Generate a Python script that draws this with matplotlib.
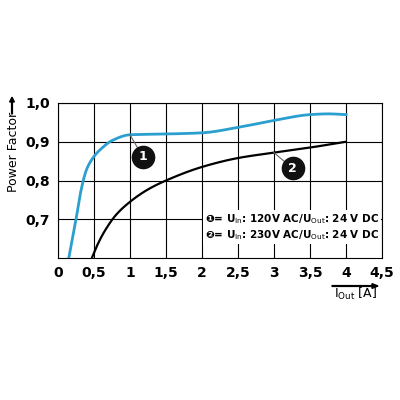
import matplotlib
matplotlib.use("Agg")
import matplotlib.pyplot as plt
import matplotlib.patches as mpatches
import numpy as np

x1 = [0.15, 0.25, 0.32, 0.4, 0.5, 0.6, 0.75, 1.0, 1.5, 2.0, 2.5, 3.0, 3.5, 3.75, 4.0]
y1 = [0.6, 0.7, 0.775, 0.83, 0.862, 0.882, 0.903, 0.918, 0.92, 0.923, 0.937, 0.955, 0.97, 0.972, 0.97]
x2 = [0.47, 0.55, 0.65, 0.8, 1.0, 1.25, 1.5, 2.0, 2.5, 3.0, 3.5, 4.0]
y2 = [0.6, 0.635, 0.67, 0.71, 0.745, 0.777, 0.8, 0.835, 0.858, 0.872, 0.885, 0.9]
xticks = [0, 0.5, 1, 1.5, 2, 2.5, 3, 3.5, 4, 4.5]
yticks = [0.7, 0.8, 0.9, 1.0]

def smooth(x, y):
    xs = np.linspace(x[0], x[-1], 400)
    x = np.asarray(x); y = np.asarray(y)
    h = np.diff(x); d = np.diff(y) / h
    m = np.zeros_like(y)
    for k in range(1, len(x) - 1):
        if d[k-1] * d[k] > 0:
            w1 = 2*h[k] + h[k-1]; w2 = h[k] + 2*h[k-1]
            m[k] = (w1 + w2) / (w1/d[k-1] + w2/d[k])
    m[0] = d[0]; m[-1] = d[-1]
    idx = np.clip(np.searchsorted(x, xs) - 1, 0, len(x) - 2)
    t = (xs - x[idx]) / h[idx]
    h00 = 2*t**3 - 3*t**2 + 1; h10 = t**3 - 2*t**2 + t
    h01 = -2*t**3 + 3*t**2; h11 = t**3 - t**2
    ys = h00*y[idx] + h10*h[idx]*m[idx] + h01*y[idx+1] + h11*h[idx]*m[idx+1]
    return xs, ys

fig = plt.figure(figsize=(4, 4), dpi=100)
ax = fig.add_axes([0.145, 0.355, 0.81, 0.3875])
ax.set_xlim(0, 4.5); ax.set_ylim(0.6, 1.0)
ax.set_xticks(xticks)
ax.set_xticklabels([str(v).replace('.', ',') for v in xticks], fontsize=10, fontweight='bold')
ax.set_yticks(yticks)
ax.set_yticklabels(['0,7', '0,8', '0,9', '1,0'], fontsize=10, fontweight='bold')
ax.tick_params(length=0, pad=6)
ax.grid(True, color='black', linewidth=0.8)
for s in ax.spines.values():
    s.set_linewidth(0.8)

xs, ys = smooth(x1, y1)
ax.plot(xs, ys, color='#2b9fcf', linewidth=2)
xs, ys = smooth(x2, y2)
ax.plot(xs, ys, color='black', linewidth=1.6)

ax.plot([1.0, 1.15], [0.918, 0.87], color='#666666', lw=0.8)
ax.plot([3.0, 3.2], [0.872, 0.84], color='#666666', lw=0.8)
for (cx, cy, n) in [(1.18, 0.861, '1'), (3.26, 0.832, '2')]:
    ax.plot(cx, cy, 'o', ms=16, color='#111111')
    ax.text(cx, cy, n, color='white', ha='center', va='center', fontsize=9, fontweight='bold')

ax.text(0.99, 0.2, '❶= U$_{\\mathrm{In}}$: 120V AC/U$_{\\mathrm{Out}}$: 24 V DC\n❷= U$_{\\mathrm{In}}$: 230V AC/U$_{\\mathrm{Out}}$: 24 V DC',
        transform=ax.transAxes, ha='right', va='center', fontsize=7.5, fontweight='bold',
        bbox=dict(facecolor='white', edgecolor='none', pad=1.5), linespacing=1.3)

fig.text(0.018, 0.72, 'Power Factor', fontsize=9, rotation=90, ha='left', va='top')
fig.text(0.835, 0.255, '$\\mathregular{I_{Out}}$ [A]', fontsize=9, ha='left')
fig.add_artist(mpatches.FancyArrow(0.83, 0.285, 0.1, 0, width=0.002, head_width=0.012, head_length=0.015, color='black', transform=fig.transFigure))
fig.add_artist(mpatches.FancyArrow(0.03, 0.715, 0, 0.03, width=0.002, head_width=0.012, head_length=0.012, color='black', transform=fig.transFigure))
fig.savefig('out.png', dpi=100, facecolor='white')
